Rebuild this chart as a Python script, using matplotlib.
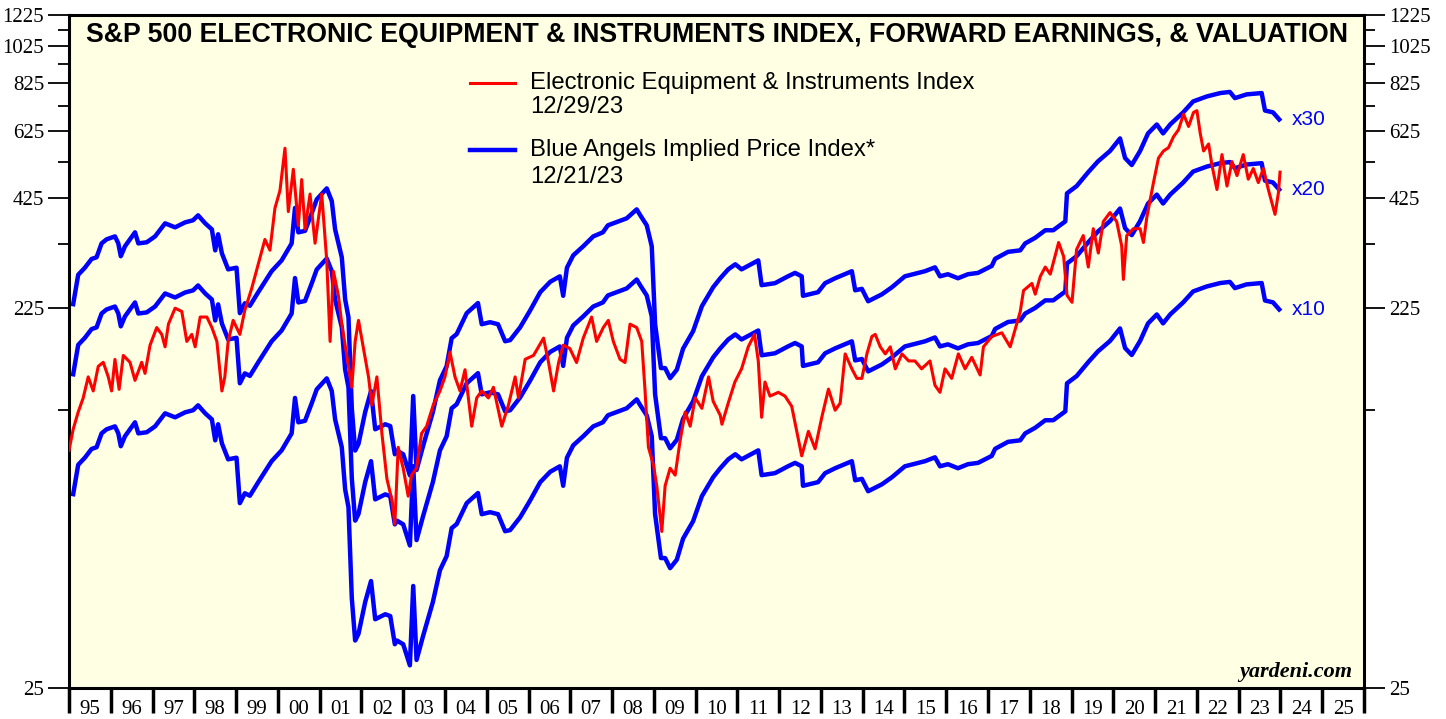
import numpy as np
import matplotlib.pyplot as plt
from matplotlib.lines import Line2D
from matplotlib.ticker import FixedLocator, FixedFormatter, NullFormatter

plt.rcParams['font.family'] = ['Liberation Serif', 'DejaVu Serif']

# Electronic Equipment & Instruments index (decimal year, index level)
index_dates = [
    1995.00, 1995.10, 1995.22, 1995.34, 1995.46, 1995.58, 1995.70, 1995.82, 1995.94, 1996.02,
    1996.10, 1996.20, 1996.30, 1996.46, 1996.58, 1996.74, 1996.82, 1996.94, 1997.10, 1997.22,
    1997.30, 1997.38, 1997.54, 1997.70, 1997.82, 1997.94, 1998.02, 1998.14, 1998.30, 1998.42,
    1998.54, 1998.66, 1998.73, 1998.81, 1998.93, 1999.09, 1999.21, 1999.37, 1999.53, 1999.69,
    1999.81, 1999.93, 2000.05, 2000.17, 2000.25, 2000.37, 2000.49, 2000.57, 2000.65, 2000.77,
    2000.89, 2001.05, 2001.17, 2001.25, 2001.33, 2001.45, 2001.53, 2001.65, 2001.77, 2001.85,
    2001.93, 2002.05, 2002.17, 2002.25, 2002.37, 2002.49, 2002.61, 2002.73, 2002.80, 2002.88,
    2003.00, 2003.12, 2003.20, 2003.32, 2003.44, 2003.56, 2003.72, 2003.88, 2004.00, 2004.12,
    2004.24, 2004.36, 2004.48, 2004.64, 2004.76, 2004.88, 2005.04, 2005.16, 2005.36, 2005.52,
    2005.68, 2005.76, 2005.92, 2006.12, 2006.36, 2006.48, 2006.60, 2006.72, 2006.83, 2006.99,
    2007.15, 2007.31, 2007.51, 2007.63, 2007.79, 2007.91, 2008.03, 2008.19, 2008.31, 2008.43,
    2008.59, 2008.71, 2008.79, 2008.87, 2008.99, 2009.07, 2009.19, 2009.27, 2009.39, 2009.51,
    2009.63, 2009.75, 2009.87, 2009.99, 2010.15, 2010.31, 2010.42, 2010.59, 2010.63, 2010.78,
    2010.94, 2011.10, 2011.26, 2011.41, 2011.50, 2011.58, 2011.66, 2011.78, 2011.98, 2012.14,
    2012.30, 2012.42, 2012.54, 2012.70, 2012.86, 2013.02, 2013.18, 2013.34, 2013.46, 2013.58,
    2013.74, 2013.86, 2013.98, 2014.10, 2014.22, 2014.30, 2014.42, 2014.54, 2014.66, 2014.78,
    2014.94, 2015.10, 2015.25, 2015.41, 2015.61, 2015.73, 2015.85, 2015.97, 2016.13, 2016.29,
    2016.45, 2016.61, 2016.81, 2016.89, 2017.09, 2017.33, 2017.53, 2017.65, 2017.77, 2017.85,
    2018.05, 2018.13, 2018.25, 2018.37, 2018.49, 2018.69, 2018.81, 2018.89, 2019.01, 2019.12,
    2019.28, 2019.40, 2019.52, 2019.64, 2019.76, 2019.92, 2020.08, 2020.20, 2020.24, 2020.32,
    2020.48, 2020.64, 2020.72, 2020.80, 2020.96, 2021.08, 2021.20, 2021.32, 2021.44, 2021.56,
    2021.68, 2021.80, 2021.92, 2022.00, 2022.08, 2022.16, 2022.28, 2022.36, 2022.48, 2022.60,
    2022.72, 2022.84, 2022.96, 2023.11, 2023.23, 2023.35, 2023.47, 2023.59, 2023.71, 2023.87,
    2023.95, 2023.99,
]
index_values = [
    98.8, 111.6, 123.3, 133.8, 151.1, 139.3, 160.6, 164.4, 151.1, 139.3,
    167.2, 140.6, 171.1, 164.4, 148.1, 164.4, 154.2, 181.5, 201.0, 193.2,
    179.8, 205.0, 224.8, 220.6, 185.5, 193.2, 179.8, 213.6, 213.6, 201.0,
    185.5, 139.3, 151.1, 185.5, 209.5, 193.2, 222.4, 251.3, 289.8, 334.5,
    314.4, 401.0, 443.8, 567.0, 393.0, 502.0, 362.6, 473.0, 355.0, 435.0,
    327.3, 435.0, 296.2, 185.5, 278.3, 241.3, 205.0, 171.1, 142.3, 185.5,
    209.5, 178.2, 151.1, 128.5, 151.1, 109.0, 83.8, 74.1, 64.5, 100.6,
    89.1, 75.8, 85.6, 89.1, 109.0, 113.5, 128.5, 139.3, 151.1, 174.3,
    151.1, 139.3, 157.5, 113.6, 133.8, 139.3, 133.8, 142.3, 113.6, 128.5,
    151.1, 133.8, 167.3, 171.1, 189.1, 164.2, 139.3, 164.2, 181.5, 178.0,
    164.2, 189.1, 213.6, 185.5, 201.0, 209.5, 185.5, 167.3, 164.2, 205.0,
    201.0, 185.5, 139.3, 100.6, 90.9, 80.5, 61.8, 80.5, 89.1, 85.6,
    104.7, 123.3, 113.6, 133.8, 126.0, 151.1, 131.2, 121.0, 114.9, 129.8,
    146.7, 158.3, 179.8, 193.2, 165.7, 119.6, 146.7, 135.2, 138.2, 135.2,
    127.5, 110.3, 95.7, 110.3, 99.7, 119.6, 140.8, 124.6, 129.8, 172.6,
    158.3, 149.8, 149.8, 172.6, 190.9, 193.2, 179.8, 172.6, 179.8, 158.3,
    172.6, 165.7, 165.7, 158.3, 165.7, 143.9, 138.2, 158.3, 149.8, 172.6,
    158.3, 169.2, 152.8, 179.8, 190.9, 195.0, 179.8, 198.9, 220.2, 249.0,
    259.4, 243.8, 270.0, 285.2, 273.7, 328.7, 303.2, 242.3, 232.6, 315.7,
    342.2, 285.2, 356.0, 309.3, 371.0, 390.8, 371.0, 322.0, 265.5, 342.2,
    356.0, 356.0, 328.7, 379.7, 464.8, 535.5, 558.0, 568.8, 606.0, 631.0,
    690.5, 643.0, 697.6, 704.5, 617.6, 558.0, 581.0, 514.0, 446.5, 546.5,
    455.5, 524.8, 484.0, 546.5, 474.0, 504.0, 464.8, 504.0, 446.5, 386.8,
    437.0, 493.8,
]

# forward earnings behind the Blue Angels implied price index (decimal year, earnings)
eps_dates = [
    1995.10, 1995.22, 1995.38, 1995.54, 1995.66, 1995.78, 1995.90, 1996.10, 1996.18, 1996.24,
    1996.34, 1996.58, 1996.66, 1996.86, 1997.06, 1997.30, 1997.54, 1997.78, 1997.97, 1998.09,
    1998.26, 1998.42, 1998.50, 1998.57, 1998.66, 1998.81, 1999.01, 1999.09, 1999.21, 1999.33,
    1999.53, 1999.69, 1999.85, 2000.09, 2000.33, 2000.41, 2000.49, 2000.65, 2000.81, 2000.93,
    2001.17, 2001.29, 2001.37, 2001.53, 2001.61, 2001.69, 2001.77, 2001.85, 2001.93, 2002.09,
    2002.23, 2002.33, 2002.57, 2002.69, 2002.80, 2002.85, 2003.00, 2003.16, 2003.24, 2003.32,
    2003.47, 2003.71, 2003.88, 2004.04, 2004.16, 2004.28, 2004.52, 2004.79, 2004.88, 2005.08,
    2005.27, 2005.44, 2005.56, 2005.80, 2006.04, 2006.28, 2006.52, 2006.75, 2006.83, 2006.92,
    2007.07, 2007.31, 2007.55, 2007.78, 2007.90, 2008.11, 2008.35, 2008.59, 2008.67, 2008.83,
    2008.95, 2009.03, 2009.17, 2009.27, 2009.39, 2009.55, 2009.70, 2009.94, 2010.15, 2010.42,
    2010.59, 2010.78, 2010.95, 2011.10, 2011.50, 2011.58, 2011.90, 2012.21, 2012.38, 2012.54,
    2012.57, 2012.93, 2013.10, 2013.34, 2013.74, 2013.82, 2013.98, 2014.13, 2014.46, 2014.70,
    2015.01, 2015.49, 2015.73, 2015.85, 2016.04, 2016.28, 2016.52, 2016.76, 2017.09, 2017.17,
    2017.48, 2017.77, 2017.89, 2018.13, 2018.37, 2018.56, 2018.85, 2018.89, 2019.12, 2019.40,
    2019.63, 2019.92, 2020.16, 2020.28, 2020.44, 2020.64, 2020.83, 2021.04, 2021.19, 2021.36,
    2021.67, 2021.91, 2022.24, 2022.56, 2022.79, 2022.91, 2023.19, 2023.55, 2023.63, 2023.82,
    2023.97,
]
fwd_earnings = [
    7.67, 9.09, 9.47, 9.96, 10.06, 10.90, 11.16, 11.35, 10.90, 10.12,
    10.72, 11.62, 10.90, 10.97, 11.35, 12.24, 11.96, 12.31, 12.46, 12.82,
    12.24, 11.82, 10.47, 11.49, 10.29, 9.38, 9.47, 7.28, 7.71, 7.60,
    8.22, 8.73, 9.28, 9.88, 10.90, 13.38, 11.62, 11.72, 12.97, 14.06,
    14.98, 13.93, 11.82, 10.06, 7.89, 7.11, 4.20, 3.29, 3.42, 4.11,
    4.64, 3.72, 3.83, 3.79, 3.22, 3.29, 3.22, 2.85, 4.51, 2.94,
    3.36, 4.11, 4.94, 5.36, 6.30, 6.45, 7.28, 7.72, 6.83, 6.91,
    6.83, 6.19, 6.23, 6.71, 7.40, 8.22, 8.73, 9.01, 8.05, 9.47,
    10.17, 10.72, 11.35, 11.62, 12.10, 12.33, 12.60, 13.27, 12.85, 12.10,
    10.72, 6.83, 5.30, 5.30, 5.00, 5.25, 5.93, 6.56, 7.58, 8.46,
    8.91, 9.38, 9.66, 9.38, 9.88, 8.56, 8.66, 9.01, 9.19, 9.01,
    8.05, 8.22, 8.66, 8.91, 9.28, 8.31, 8.38, 7.80, 8.12, 8.46,
    9.01, 9.28, 9.49, 9.01, 9.12, 8.91, 9.12, 9.19, 9.57, 9.97,
    10.38, 10.47, 10.90, 11.26, 11.76, 11.76, 12.38, 14.56, 15.18, 16.46,
    17.51, 18.60, 20.00, 17.86, 17.15, 18.60, 20.59, 21.68, 20.59, 21.68,
    23.24, 24.77, 25.50, 26.00, 26.17, 25.25, 25.80, 26.00, 23.50, 23.26,
    22.32,
]
multiples = [30, 20, 10]

year_ticks = list(range(1995, 2027))
year_labels = ['%02d' % (y % 100) for y in range(1995, 2026)]
y_major = [25, 225, 425, 625, 825, 1025, 1225]
y_minor = [125, 325, 525, 725, 925, 1125]

fig = plt.figure(figsize=(14.46, 7.19), dpi=100)
ax = fig.add_axes([69 / 1446, 1 - 688 / 719, 1295 / 1446, 673 / 719])
ax.set_facecolor('#ffffe3')
ax.set_yscale('log')

# implied price index lines: forward earnings times fixed multiples
eps = np.array(fwd_earnings)
for m in multiples:
    ax.plot(eps_dates, eps * m, color='#0000ff', lw=3.2, zorder=2)
    ax.annotate('x%d' % m, xy=(eps_dates[-1], eps[-1] * m), xytext=(9, 0),
                textcoords='offset points', ha='left', va='center',
                color='#0000ff', fontsize=15, family='Liberation Sans')

ax.plot(index_dates, index_values, color='#ff0000', lw=2.2, zorder=3)

ax.set_xlim(1995, 2026)
ax.set_ylim(25, 1225)

# y axis, labels on both sides
ax.yaxis.set_major_locator(FixedLocator(y_major))
ax.yaxis.set_major_formatter(FixedFormatter([str(v) for v in y_major]))
ax.yaxis.set_minor_locator(FixedLocator(y_minor))
ax.yaxis.set_minor_formatter(NullFormatter())
ax.tick_params(axis='y', which='major', direction='out', length=15, width=1.3,
               left=True, right=True, labelleft=True, labelright=True,
               labelsize=15, pad=3)
ax.tick_params(axis='y', which='minor', direction='out', length=8, width=1.3,
               left=True, right=True)

# x axis: ticks at year boundaries, labels centred in each year
ax.xaxis.set_major_locator(FixedLocator(year_ticks))
ax.xaxis.set_major_formatter(NullFormatter())
ax.xaxis.set_minor_locator(FixedLocator([y + 0.5 for y in range(1995, 2026)]))
ax.xaxis.set_minor_formatter(FixedFormatter(year_labels))
ax.tick_params(axis='x', which='major', direction='out', length=18, width=2.5)
ax.tick_params(axis='x', which='minor', length=0, pad=9, labelsize=15)

for s in ax.spines.values():
    s.set_linewidth(2.2)
    s.set_color('black')

ax.text(0.5, 0.970,
        'S&P 500 ELECTRONIC EQUIPMENT & INSTRUMENTS INDEX, FORWARD EARNINGS, & VALUATION',
        transform=ax.transAxes, ha='center', va='center', fontsize=19.3,
        fontweight='bold', family='Liberation Sans')

# legend
ax.add_line(Line2D([0.3097, 0.3444], [0.899, 0.899], transform=ax.transAxes,
                   color='#ff0000', lw=2.2))
ax.add_line(Line2D([0.3097, 0.3444], [0.7994, 0.7994], transform=ax.transAxes,
                   color='#0000ff', lw=3.2))
leg_font = dict(transform=ax.transAxes, ha='left', va='center', fontsize=17.2,
                family='Liberation Sans')
ax.text(0.356, 0.899, 'Electronic Equipment & Instruments Index', **leg_font)
ax.text(0.356, 0.864, '12/29/23', **leg_font)
ax.text(0.356, 0.7994, 'Blue Angels Implied Price Index*', **leg_font)
ax.text(0.356, 0.759, '12/21/23', **leg_font)

ax.text(0.9907, 0.0238, 'yardeni.com', transform=ax.transAxes, ha='right',
        va='center', fontsize=16, fontweight='bold', fontstyle='italic')

fig.savefig('out.png', dpi=100)
